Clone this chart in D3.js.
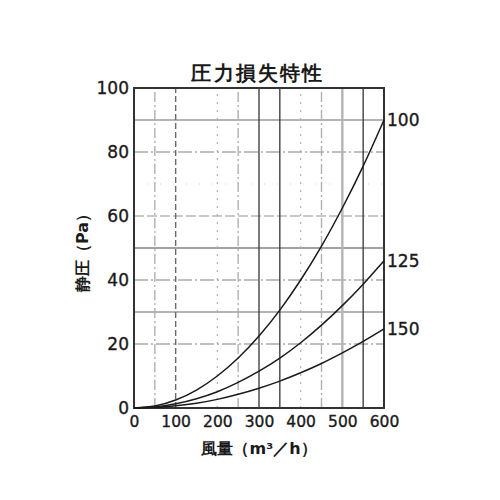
<!DOCTYPE html>
<html><head><meta charset="utf-8">
<script src="https://cdn.jsdelivr.net/npm/d3@7"></script>
<style>
html,body{margin:0;padding:0;background:#fff;}
text{font-family:"DejaVu Sans","Liberation Sans",Arial,sans-serif;fill:#1a1a1a;}
</style></head><body>
<svg id="c" width="500" height="500"></svg>
<script>
// ---- data ----
const title = "圧力損失特性";
const xLabelMain = "風量";
const xLabelUnit = "（m³／h）";
const yLabelMain = "静圧";
const yLabelUnit = "（Pa）";
const flow = [0, 50, 100, 150, 200, 250, 300, 350, 400, 450, 500, 550, 600];
const seriesNames = ["100", "125", "150"];
const pressure100 = [0, 0.6, 2.5, 5.6, 10, 15.6, 22.5, 30.6, 40, 50.6, 62.5, 75.6, 90];
const pressure125 = [0, 0.3, 1.3, 2.9, 5.1, 8, 11.5, 15.6, 20.4, 25.9, 32, 38.7, 46];
const pressure150 = [0, 0.2, 0.7, 1.5, 2.7, 4.3, 6.2, 8.4, 11, 13.9, 17.2, 20.8, 24.7];
const xTicks = [0, 100, 200, 300, 400, 500, 600];
const yTicks = [0, 20, 40, 60, 80, 100];
// grid lines, grouped by appearance in the original
const vSolid = [300, 350, 550];
const vGrayThick = [500];
const vDash = [100];
const vDashDot = [50, 250, 450];
const vDot = [200, 400];
const hSolid = [50];
const hGrayThick = [90, 30];
const hDashDot = [80, 40, 20];
const hGrayDash = [60];
const hDot = [70];

// ---- chart ----
const svg = d3.select("#c");
const m = {l:134, r:116, t:88, b:92};
const W = 500 - m.l - m.r, H = 500 - m.t - m.b;
const x = d3.scaleLinear().domain([0, 600]).range([m.l, m.l + W]);
const y = d3.scaleLinear().domain([0, 100]).range([m.t + H, m.t]);

const g = svg.append("g");
function vlines(vals, stroke, w, dash){
  g.selectAll(null).data(vals).enter().append("line")
    .attr("x1", d=>x(d)).attr("x2", d=>x(d)).attr("y1", y(0)).attr("y2", y(100))
    .attr("stroke", stroke).attr("stroke-width", w).attr("stroke-dasharray", dash);
}
function hlines(vals, stroke, w, dash){
  g.selectAll(null).data(vals).enter().append("line")
    .attr("y1", d=>y(d)).attr("y2", d=>y(d)).attr("x1", x(0)).attr("x2", x(600))
    .attr("stroke", stroke).attr("stroke-width", w).attr("stroke-dasharray", dash);
}
hlines(hGrayThick, "#b4b4b4", 2.2, null);
hlines(hDashDot, "#aaaaaa", 1.6, "14,3,2,3");
hlines(hGrayDash, "#b8b8b8", 1.6, "10,3");
hlines(hDot, "#cfcfcf", 1, "1,12");
hlines(hSolid, "#444", 1.2, null);
vlines(vGrayThick, "#b4b4b4", 2.4, null);
vlines(vDashDot, "#b0b0b0", 1.4, "10,3,2,3");
vlines(vDot, "#b0b0b0", 1.2, "2,6");
vlines(vDash, "#6a6a6a", 1.4, "6,3");
vlines(vSolid, "#333", 1.3, null);

// frame
svg.append("rect").attr("x", x(0)).attr("y", y(100)).attr("width", W).attr("height", H)
  .attr("fill", "none").attr("stroke", "#333").attr("stroke-width", 2);

// axes (ticks as text only)
const xAxis = d3.axisBottom(x).tickValues(xTicks).tickSize(0).tickPadding(8);
const yAxis = d3.axisLeft(y).tickValues(yTicks).tickSize(0).tickPadding(5);
const gx = svg.append("g").attr("transform", `translate(0,${y(0)})`).call(xAxis);
const gy = svg.append("g").attr("transform", `translate(${x(0)},0)`).call(yAxis);
gx.select(".domain").remove();
gy.select(".domain").remove();
gx.selectAll("text").attr("font-size", 15.5).attr("fill", "#1a1a1a")
  .attr("font-family", "'DejaVu Sans',sans-serif").attr("dy", "0.72em")
  .attr("stroke", "#1a1a1a").attr("stroke-width", 0.35);
gy.selectAll("text").attr("font-size", 17).attr("fill", "#1a1a1a")
  .attr("font-family", "'DejaVu Sans',sans-serif")
  .attr("stroke", "#1a1a1a").attr("stroke-width", 0.35);

// curves
const line = d3.line().x((d,i)=>x(flow[i])).y(d=>y(d)).curve(d3.curveMonotoneX);
const all = [pressure100, pressure125, pressure150];
svg.selectAll(".curve").data(all).enter().append("path")
  .attr("class", "curve").attr("d", d=>line(d))
  .attr("fill", "none").attr("stroke", "#1a1a1a").attr("stroke-width", 1.5);

// series labels at right end
svg.selectAll(".slab").data(all).enter().append("text")
  .attr("x", x(600) + 3).attr("y", d=>y(d[d.length-1]))
  .attr("dy", "0.36em").attr("font-size", 17)
  .attr("font-family", "'DejaVu Sans',sans-serif")
  .attr("stroke", "#1a1a1a").attr("stroke-width", 0.35)
  .text((d,i)=>seriesNames[i]);

// title
svg.append("text").attr("x", 258).attr("y", 80).attr("text-anchor", "middle")
  .attr("font-size", 20).attr("font-weight", "bold").attr("letter-spacing", 2.2)
  .attr("font-family", "'Noto Sans CJK JP',sans-serif").text(title);

// x label
const xl = svg.append("text").attr("x", 259).attr("y", 454).attr("text-anchor", "middle")
  .attr("font-size", 16).attr("font-weight", "bold")
  .attr("font-family", "'Noto Sans CJK JP',sans-serif");
xl.append("tspan").text(xLabelMain);
xl.append("tspan").text(xLabelUnit);

// y label
const yl = svg.append("text").attr("transform", "translate(88,249) rotate(-90)")
  .attr("text-anchor", "middle").attr("font-size", 16).attr("font-weight", "bold")
  .attr("font-family", "'Noto Sans CJK JP',sans-serif");
yl.append("tspan").text(yLabelMain);
yl.append("tspan").text(yLabelUnit);
</script>
</body></html>
